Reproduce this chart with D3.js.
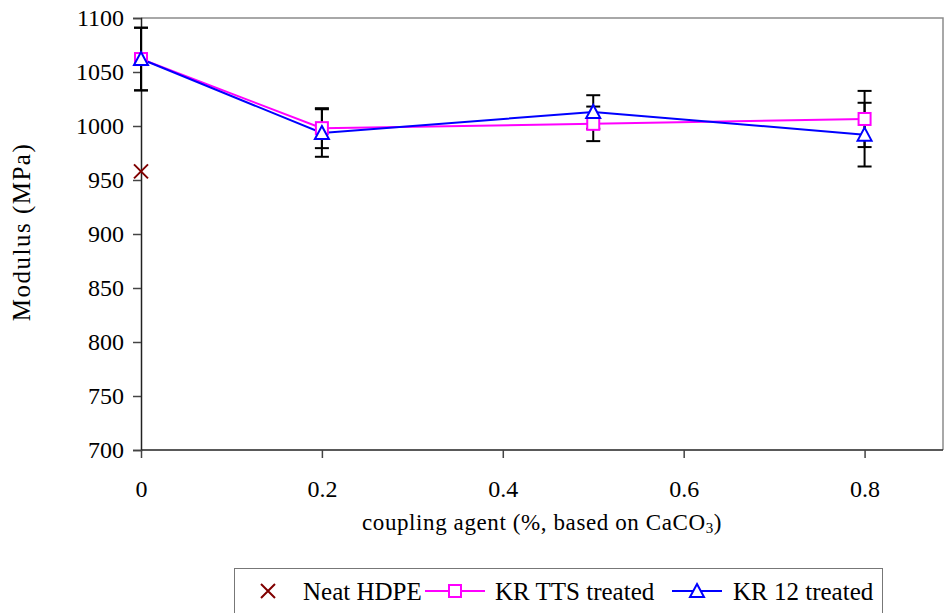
<!DOCTYPE html>
<html><head><meta charset="utf-8">
<script src="https://cdn.jsdelivr.net/npm/d3@7"></script>
<style>
html,body{margin:0;padding:0;background:#fff;}
svg{display:block;}
text{font-family:"Liberation Serif","Times New Roman",serif;fill:#000;}
</style></head>
<body>
<svg id="c" width="945" height="613"></svg>
<script>
// ---- data ----
const xTickValues = [0, 0.2, 0.4, 0.6, 0.8];
const yTickValues = [700, 750, 800, 850, 900, 950, 1000, 1050, 1100];
const neatX = [0];
const neatModulus = [958];
const couplingPct = [0, 0.2, 0.5, 0.8];
const ttsModulus = [1062, 998, 1002, 1006.5];
const ttsError = [29, 18.5, 16, 26];
const kr12Modulus = [1062, 993.5, 1013, 992];
const kr12Error = [29, 22, 15.5, 29.5];
const seriesNames = ["Neat HDPE", "KR TTS treated", "KR 12 treated"];

const svg = d3.select("#c");
const L = 141, R = 943, T = 18, B = 450;
const x = d3.scaleLinear().domain([0, 0.8867]).range([L, R]);
const y = d3.scaleLinear().domain([700, 1100]).range([B, T]);

// plot border (top/right gray)
svg.append("path").attr("d", `M${L},${T}H${R}V${B}`).attr("fill","none").attr("stroke","#8c8c8c").attr("stroke-width",1.5);

// axes
const yAxis = d3.axisLeft(y).tickValues(yTickValues).tickSize(8).tickPadding(9).tickFormat(d3.format("d"));
const gy = svg.append("g").attr("transform",`translate(${L},0)`).call(yAxis);
gy.select(".domain").attr("stroke","#222").attr("stroke-width",1.5);
gy.selectAll(".tick line").attr("stroke","#444").attr("stroke-width",1.5);
gy.selectAll(".tick text").attr("font-size",24).attr("font-family","Liberation Serif").attr("fill","#000");

const xAxis = d3.axisBottom(x).tickValues(xTickValues).tickSize(8).tickPadding(22).tickFormat(d => d === 0 ? "0" : d3.format(".1f")(d));
const gx = svg.append("g").attr("transform",`translate(0,${B})`).call(xAxis);
gx.select(".domain").attr("stroke","#222").attr("stroke-width",1.5).attr("d", `M${L},0H${R}`);
gx.selectAll(".tick line").attr("stroke","#444").attr("stroke-width",1.5);
gx.selectAll(".tick text").attr("font-size",24).attr("font-family","Liberation Serif").attr("fill","#000");

// titles
const xt = svg.append("text").attr("x", 542).attr("y", 530).attr("text-anchor","middle").attr("font-size",23).attr("letter-spacing",0.6);
xt.append("tspan").text("coupling agent (%, based on CaCO");
xt.append("tspan").attr("font-size",15).attr("dy",3).text("3");
xt.append("tspan").attr("dy",-3).text(")");

svg.append("text").attr("transform","translate(30,232) rotate(-90)").attr("text-anchor","middle").attr("font-size",25).attr("letter-spacing",1.5).text("Modulus (MPa)");

// error bars
function errBars(vals, errs){
  const g = svg.append("g").attr("stroke","#000").attr("stroke-width",2);
  couplingPct.forEach((c,i)=>{
    const cx = x(c);
    g.append("line").attr("x1",cx).attr("x2",cx).attr("y1",y(vals[i]+errs[i])).attr("y2",y(vals[i]-errs[i]));
    [vals[i]+errs[i], vals[i]-errs[i]].forEach(v=>{
      g.append("line").attr("x1",cx-7).attr("x2",cx+7).attr("y1",y(v)).attr("y2",y(v));
    });
  });
}
errBars(ttsModulus, ttsError);
errBars(kr12Modulus, kr12Error);

// lines
const line = d3.line().x((d,i)=>x(couplingPct[i])).y(d=>y(d));
svg.append("path").datum(ttsModulus).attr("d",line).attr("fill","none").attr("stroke","#ff00ff").attr("stroke-width",2);
svg.append("path").datum(kr12Modulus).attr("d",line).attr("fill","none").attr("stroke","#0000ff").attr("stroke-width",2);

// markers
const sq = 12;
function square(g, cx, cy){
  g.append("rect").attr("x",cx-sq/2).attr("y",cy-sq/2).attr("width",sq).attr("height",sq).attr("fill","#fff").attr("stroke","#ff00ff").attr("stroke-width",2);
}
function tri(g, cx, cy){
  g.append("path").attr("d",`M${cx},${cy-7}L${cx+7},${cy+6}L${cx-7},${cy+6}Z`).attr("fill","#fff").attr("stroke","#0000ff").attr("stroke-width",2);
}
function cross(g, cx, cy){
  g.append("path").attr("d",`M${cx-7},${cy-7}L${cx+7},${cy+7}M${cx+7},${cy-7}L${cx-7},${cy+7}`).attr("stroke","#800000").attr("stroke-width",2).attr("fill","none");
}
const gm = svg.append("g");
ttsModulus.forEach((v,i)=>square(gm, x(couplingPct[i]), y(v)));
kr12Modulus.forEach((v,i)=>tri(gm, x(couplingPct[i]), y(v)));
neatModulus.forEach((v,i)=>cross(gm, x(neatX[i]), y(v)));

// legend
const lg = svg.append("g");
lg.append("rect").attr("x",234.5).attr("y",568.5).attr("width",648).attr("height",60).attr("fill","#fff").attr("stroke","#777").attr("stroke-width",1);
const ly = 591;
cross(lg, 268, ly);
lg.append("text").attr("x",303).attr("y",ly+9).attr("font-size",25).text(seriesNames[0]);
lg.append("line").attr("x1",425).attr("x2",485).attr("y1",ly).attr("y2",ly).attr("stroke","#ff00ff").attr("stroke-width",2);
square(lg, 455, ly);
lg.append("text").attr("x",495).attr("y",ly+9).attr("font-size",25).text(seriesNames[1]);
lg.append("line").attr("x1",672).attr("x2",722).attr("y1",ly).attr("y2",ly).attr("stroke","#0000ff").attr("stroke-width",2);
tri(lg, 697, ly);
lg.append("text").attr("x",733).attr("y",ly+9).attr("font-size",25).text(seriesNames[2]);
</script>
</body></html>
